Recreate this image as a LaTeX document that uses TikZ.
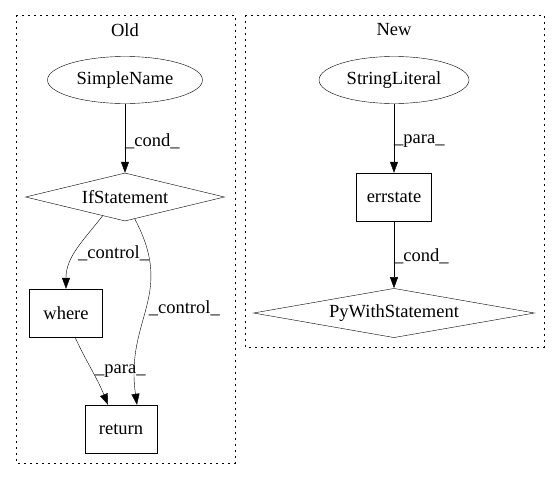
\documentclass[tikz,border=0pt]{standalone}
\usepackage{fontspec}
\setmainfont{Liberation Serif}
\usetikzlibrary{shapes.geometric,arrows.meta}
\tikzset{
>={Triangle[length=11pt,width=8pt]},
line width=1pt,
node distance=116pt,
every node/.style={font=\fontsize{18.5}{22}\selectfont},
expr/.style={draw, ellipse, inner sep=0pt, minimum width=155pt, minimum height=47pt},
stmt/.style={draw, diamond, aspect=4, inner sep=0pt, minimum height=48pt},
call/.style={draw, rectangle, inner sep=0pt, minimum height=48pt},
lbl/.style={right, inner sep=0pt},
cluster/.style={dash pattern=on 1.6pt off 4.4pt},
}

\begin{document}
\begin{tikzpicture}[x=1pt,y=-1pt]
        \useasboundingbox (0,0) rectangle (560,480);
        % old
        \draw[cluster] (16,15) rectangle (235,463);
        \node (old) at (125,30) {Old};
        \node[expr] (sn) at (125,80) {SimpleName};
        \node[stmt,minimum width=199pt,below of=sn,yshift=-1pt] (if) {IfStatement};
        \node[call,minimum width=73pt,below of=if,xshift=-59pt] (where) {where};
        \node[call,minimum width=72pt,below of=where,xshift=55pt] (ret) {return};

        \draw[->] (sn) -- node[lbl,yshift=-3pt]{\_cond\_} (if);
        \draw[->] (if.220) to[out=232,in=90] node[lbl,pos=0.55,xshift=3pt]{\_control\_} (where.north);
        \draw[->] (if.294) to[out=-62,in=98,looseness=1.2] node[lbl,pos=0.5,xshift=2pt]{\_control\_} ([xshift=16pt]ret.north);
        \draw[->] ([xshift=9pt]where.south) to[out=-65,in=112] node[lbl,pos=0.5,xshift=3pt]{\_para\_} ([xshift=-13pt]ret.north);

        % new
        \draw[cluster] (245,15) rectangle (544,347);
        \node (new) at (394,30) {New};
        \node[expr,minimum width=150pt] (sl) at (394,80) {StringLiteral};
        \node[call,minimum width=75pt,below of=sl,yshift=-1pt] (err) {errstate};
        \node[stmt,minimum width=281pt,below of=err] (pws) {PyWithStatement};

        \draw[->] (sl) -- node[lbl,yshift=-3pt]{\_para\_} (err);
        \draw[->] (err) -- node[lbl,yshift=-2pt]{\_cond\_} (pws);
    \end{tikzpicture}
\end{document}
